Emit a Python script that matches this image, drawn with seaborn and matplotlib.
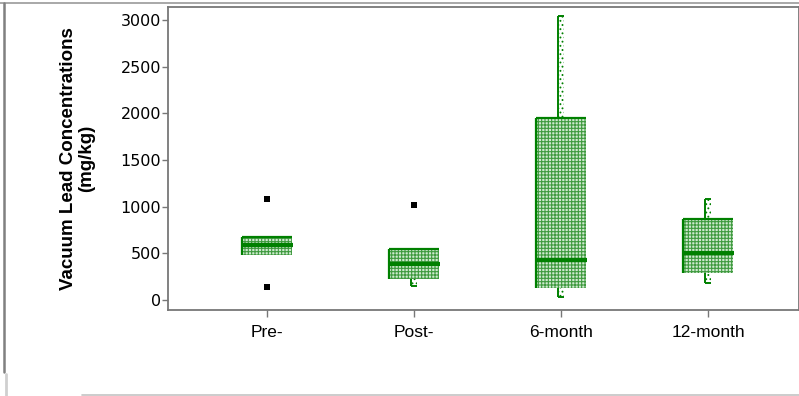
import matplotlib
matplotlib.use("Agg")
import matplotlib.pyplot as plt
from matplotlib.lines import Line2D
import numpy as np
import pandas as pd
import seaborn as sns

# Vacuum dust lead, summarised per sampling round (mg/kg)
stages = ["Pre-", "Post-", "6-month", "12-month"]
q1 = [485, 222, 125, 293]
median = [590, 381, 431, 506]
q3 = [672, 546, 1947, 865]
whisker_low = [485, 150, 35, 185]
whisker_high = [672, 546, 3045, 1079]
outlier_stage = ["Pre-", "Pre-", "Post-"]
outlier_value = [1084, 139, 1018]
yticks = [0, 500, 1000, 1500, 2000, 2500, 3000]

sns.set_theme(style="white")
plt.rcParams["font.family"] = ["Liberation Sans", "DejaVu Sans"]
plt.rcParams["hatch.linewidth"] = 0.8

GREEN = "#008000"
BOX_FILL = "#cfe9cf"
HATCH_GREEN = "#3f9a3f"
AXIS_GREY = "#777777"

W, H = 799, 396
fig = plt.figure(figsize=(W / 100, H / 100), dpi=100)
ax = fig.add_axes([168 / W, 1 - 310 / H, 630.5 / W, 303 / H])

df = pd.DataFrame({
    "stage": stages, "q1": q1, "median": median, "q3": q3,
    "lo": whisker_low, "hi": whisker_high,
})
df["iqr"] = df["q3"] - df["q1"]
df["upper"] = df["hi"] - df["q3"]
df["lower"] = df["q1"] - df["lo"]

box_w = 0.34
wh_w = 0.046
pos = np.arange(len(stages))

# whiskers: slim dotted columns above and below each box
for col, base in (("upper", "q3"), ("lower", "lo")):
    sns.barplot(data=df, x="stage", y=col, bottom=df[base].to_numpy(),
                order=stages, width=wh_w, color="white", saturation=1,
                errorbar=None, hatch="....", edgecolor=GREEN, linewidth=0,
                ax=ax)

# interquartile boxes with a fine green grid fill
sns.barplot(data=df, x="stage", y="iqr", bottom=df["q1"].to_numpy(),
            order=stages, width=box_w, color=BOX_FILL, saturation=1,
            errorbar=None, hatch="+++++", edgecolor=HATCH_GREEN,
            linewidth=0, ax=ax)

# bevelled left/top edges of boxes and whiskers
left = pos - box_w / 2
right = pos + box_w / 2
ax.vlines(left, df["q1"], df["q3"], color=GREEN, lw=1.6)
ax.hlines(df["q3"], left, right, color=GREEN, lw=1.6)
for i in range(len(stages)):
    wl = pos[i] - wh_w / 2
    wr = pos[i] + wh_w / 2
    if whisker_high[i] > q3[i]:
        ax.vlines(wl, q3[i], whisker_high[i], color=GREEN, lw=1.4)
        ax.hlines(whisker_high[i], wl, wr, color=GREEN, lw=1.4)
    if whisker_low[i] < q1[i]:
        ax.vlines(wl, whisker_low[i], q1[i], color=GREEN, lw=1.4)
        ax.hlines(whisker_low[i], wl, wr, color=GREEN, lw=1.4)

# medians
ax.hlines(df["median"], left, right + 0.01, color=GREEN, lw=3)

# outlying samples
sns.stripplot(x=outlier_stage, y=outlier_value, order=stages, jitter=False,
              marker="s", size=4.6, color="black", linewidth=0, ax=ax)

ax.set_xlim(-0.673, 3.616)
ax.set_ylim(-107, 3139)
ax.set_yticks(yticks)
ax.set_yticklabels([str(v) for v in yticks], family="DejaVu Sans", fontsize=11.5)
ax.set_xticks(pos)
ax.set_xticklabels(stages, fontsize=12.5)
ax.tick_params(axis="y", left=True, length=4, width=1, color=AXIS_GREY,
               pad=1, labelcolor="black")
ax.tick_params(axis="x", bottom=True, length=5, width=1, color=AXIS_GREY,
               pad=6, labelcolor="black")
for sp in ax.spines.values():
    sp.set_visible(True)
    sp.set_color(AXIS_GREY)
    sp.set_linewidth(1.3)

ax.set_xlabel("")
ax.set_ylabel("Vacuum Lead Concentrations\n(mg/kg)", fontsize=13.5,
              fontweight="bold", color="black", linespacing=1.1)
ax.yaxis.set_label_coords(-0.116, 0.5)

# outer frame of the figure
fig.add_artist(Line2D([0, 1], [1 - 3 / H, 1 - 3 / H], color="#9a9a9a", lw=1.2))
fig.add_artist(Line2D([4 / W, 4 / W], [1 - 3 / H, 1 - 372 / H], color="#808080", lw=1.8))
fig.add_artist(Line2D([6 / W, 6 / W], [1 - 374 / H, 0], color="#cfcfcf", lw=2))
fig.add_artist(Line2D([82 / W, 1], [1.5 / H, 1.5 / H], color="#c4c4c4", lw=1.2))

fig.savefig("out.png", dpi=100)
